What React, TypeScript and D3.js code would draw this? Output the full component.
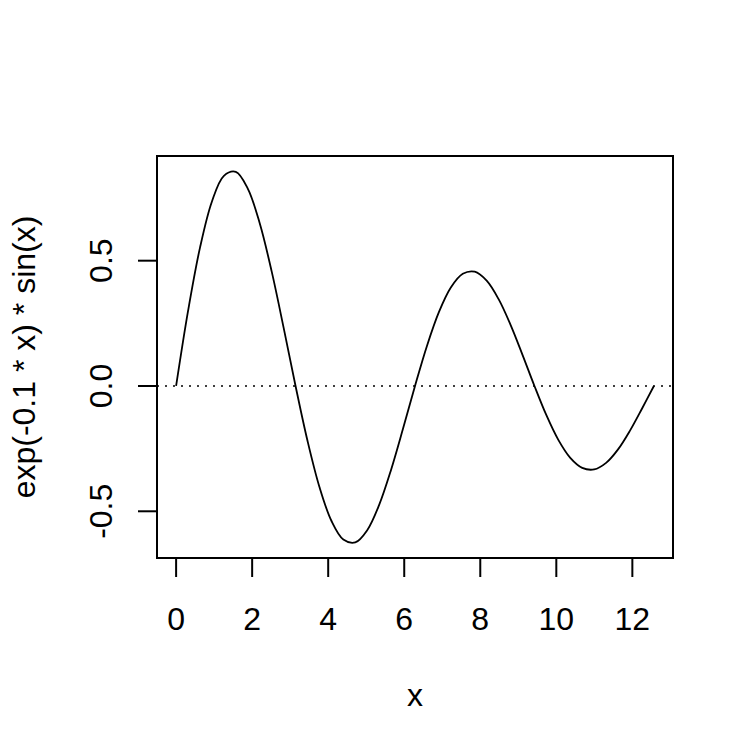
import React from "react";
import * as d3 from "d3";

// values (curve of exp(-0.1*x)*sin(x))
const xValues = [
  0, 0.3142, 0.6283, 0.9425, 1.2566, 1.5708, 1.885, 2.1991, 2.5133, 2.8274,
  3.1416, 3.4558, 3.7699, 4.0841, 4.3982, 4.7124, 5.0265, 5.3407, 5.6549, 5.969,
  6.2832, 6.5973, 6.9115, 7.2257, 7.5398, 7.854, 8.1681, 8.4823, 8.7965, 9.1106,
  9.4248, 9.7389, 10.0531, 10.3673, 10.6814, 10.9956, 11.3097, 11.6239, 11.9381,
  12.2522, 12.5664,
];
const yValues = [
  0, 0.2995, 0.552, 0.7363, 0.8387, 0.8546, 0.7877, 0.6493, 0.4572, 0.2329,
  0, -0.2187, -0.4032, -0.5378, -0.6126, -0.6242, -0.5753, -0.4743, -0.3339, -0.1701,
  0, 0.1598, 0.2945, 0.3928, 0.4475, 0.4559, 0.4202, 0.3464, 0.2439, 0.1243,
  0, -0.1167, -0.2151, -0.2869, -0.3268, -0.333, -0.3069, -0.253, -0.1781, -0.0908,
  0,
];
const xTicks = [0, 2, 4, 6, 8, 10, 12];
const yTicks = [-0.5, 0, 0.5];
const yTickLabels = ["-0.5", "0.0", "0.5"];
const xDomain = [-0.5027, 13.0691];
const yDomain = [-0.6864, 0.9177];
const xLabel = "x";
const yLabel = "exp(-0.1 * x) * sin(x)";

export default function App() {
  const W = 755;
  const H = 755;
  const left = 157;
  const right = 673;
  const top = 156;
  const bottom = 558;
  const x = d3.scaleLinear().domain(xDomain).range([left, right]);
  const y = d3.scaleLinear().domain(yDomain).range([bottom, top]);
  const pts = xValues.map((v, i) => [v, yValues[i]] as [number, number]);
  const line = d3
    .line<[number, number]>()
    .x((d) => x(d[0]))
    .y((d) => y(d[1]))
    .curve(d3.curveCatmullRom);
  const font = "'Liberation Sans', Arial, sans-serif";
  const fs = 32;
  const tickLen = 19;
  return (
    <svg
      width={W}
      height={H}
      style={{ position: "absolute", left: 0, top: 0, background: "#fff" }}
      fontFamily={font}
    >
      <rect x={0} y={0} width={W} height={H} fill="#fff" />
      <line
        x1={left}
        x2={right}
        y1={y(0)}
        y2={y(0)}
        stroke="#000"
        strokeWidth={1.6}
        strokeDasharray="2,6"
      />
      <path d={line(pts) || ""} fill="none" stroke="#000" strokeWidth={1.8} />
      <rect
        x={left}
        y={top}
        width={right - left}
        height={bottom - top}
        fill="none"
        stroke="#000"
        strokeWidth={2}
      />
      {xTicks.map((t) => (
        <g key={"xt" + t}>
          <line x1={x(t)} x2={x(t)} y1={bottom} y2={bottom + tickLen} stroke="#000" strokeWidth={2} />
          <text x={x(t)} y={630} textAnchor="middle" fontSize={fs}>
            {t}
          </text>
        </g>
      ))}
      {yTicks.map((t, i) => (
        <g key={"yt" + t}>
          <line x1={left} x2={left - tickLen} y1={y(t)} y2={y(t)} stroke="#000" strokeWidth={2} />
          <text
            transform={`translate(112,${y(t)}) rotate(-90)`}
            textAnchor="middle"
            fontSize={fs}
          >
            {yTickLabels[i]}
          </text>
        </g>
      ))}
      <text x={(left + right) / 2} y={706} textAnchor="middle" fontSize={fs}>
        {xLabel}
      </text>
      <text
        transform={`translate(35,${(top + bottom) / 2}) rotate(-90)`}
        textAnchor="middle"
        fontSize={fs}
      >
        {yLabel}
      </text>
    </svg>
  );
}
